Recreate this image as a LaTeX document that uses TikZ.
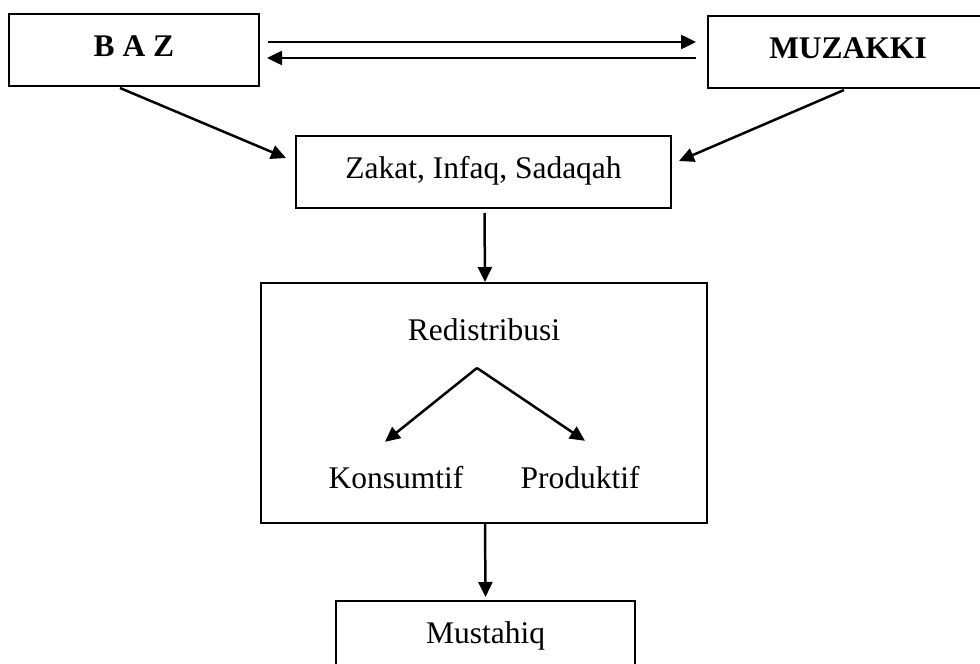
\documentclass[tikz,border=0pt]{standalone}
\usepackage{fontspec}
\setmainfont{Liberation Serif}
\usetikzlibrary{arrows.meta, calc}

\begin{document}
\begin{tikzpicture}[x=1pt, y=-1pt,
		box/.style={draw, line width=2pt, inner sep=0pt, text height=22pt, text depth=10pt, font=\fontsize{31.5}{38}\selectfont},
		txt/.style={inner sep=0pt, text height=22pt, text depth=10pt, font=\fontsize{31.5}{38}\selectfont},
		arr/.style={-{Triangle[length=15pt, width=14pt]}, line width=2.5pt}]
			\useasboundingbox (0, 0) rectangle (980, 664);
			\clip (0, 0) rectangle (980, 664);
			
			\node [box, minimum width=250pt, minimum height=72pt] (baz) at (134, 50) {\textbf{B A Z}};
			\node [box, minimum width=280pt, minimum height=72pt] (muzakki) at (848, 52) {\textbf{MUZAKKI}};
			\node [box, minimum width=375pt, minimum height=72pt] (zakat) at (483.5, 172) {Zakat, Infaq, Sadaqah};
			
			\node [box, minimum width=446pt, minimum height=240pt] (redist) at (484, 403) {};
			\node [txt] (redistlabel) at (484, 334) {Redistribusi};
			\node [txt] (konsumtif) at (396, 482) {Konsumtif};
			\node [txt] (produktif) at (580, 482) {Produktif};
			\coordinate (split) at (477, 368);
			
			\node [box, text depth=40pt, inner ysep=20pt, minimum width=299pt, anchor=north] (mustahiq) at (485.5, 600) {Mustahiq};
			
			\draw[arr] ($(baz.east)+(8,-8)$) -- ($(baz.east -| muzakki.west)+(-11,-8)$);
			\draw[arr] ($(baz.east -| muzakki.west)+(-11,8)$) -- ($(baz.east)+(7,8)$);
			\draw[arr] ($(baz.south)+(-14,1)$) -- ($(zakat.west)+(-9,-14)$);
			\draw[arr] ($(muzakki.south)+(-4,1)$) -- ($(zakat.east)+(7,-11)$);
			\draw[arr] ($(zakat.south)+(1,4)$) -- ($(redist.north)+(1,0)$);
			
			\draw[arr] (split) -- ($(konsumtif.north)+(-11,-24)$);
			\draw[arr] (split) -- ($(produktif.north)+(5,-25)$);
			
			\draw[arr] ($(redist.south)+(1,0)$) -- ($(mustahiq.north)+(0,-3)$);
		\end{tikzpicture}
\end{document}
